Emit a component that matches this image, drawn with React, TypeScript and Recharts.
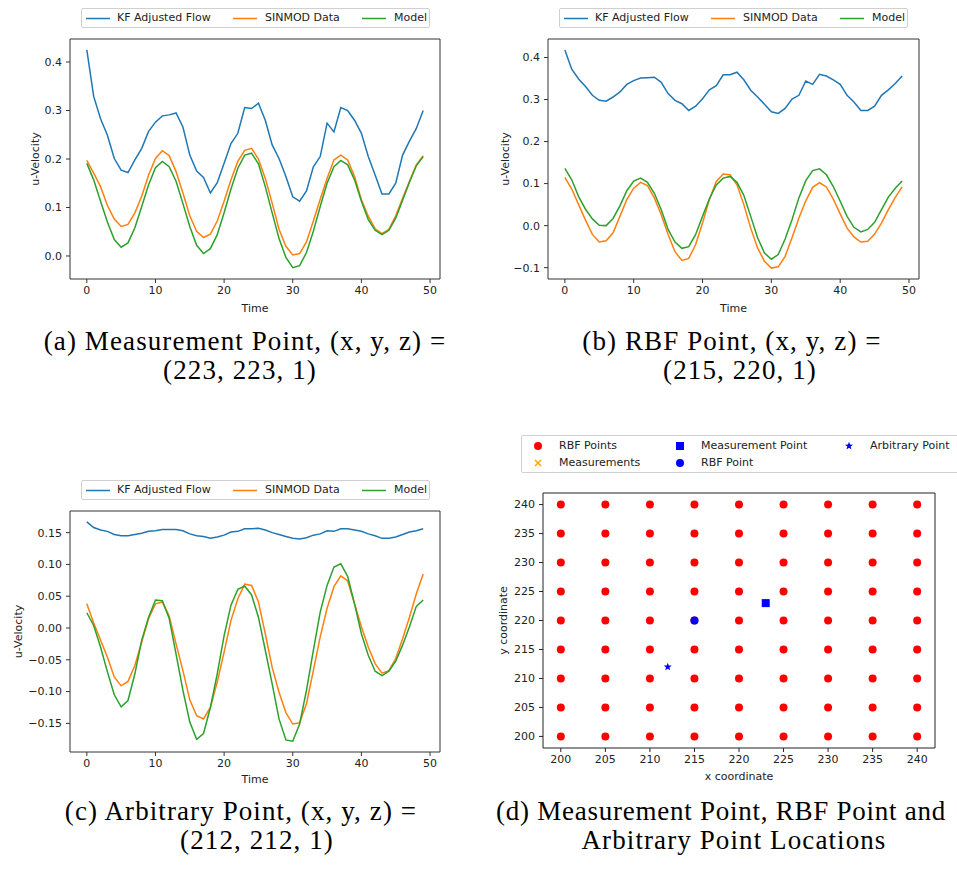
import React from "react";
import {
  LineChart,
  Line,
  XAxis,
  YAxis,
  ScatterChart,
  Scatter,
  ReferenceArea,
} from "recharts";

// time steps shared by the three line panels
const time = [
  0, 1, 2, 3, 4, 5, 6, 7, 8, 9, 10, 11, 12, 13, 14, 15, 16, 17, 18, 19, 20, 21, 22, 23, 24,
  25, 26, 27, 28, 29, 30, 31, 32, 33, 34, 35, 36, 37, 38, 39, 40, 41, 42, 43, 44, 45, 46, 47, 48, 49,
];
const timeTicks = [0, 10, 20, 30, 40, 50];

// (a) measurement point
const kfA = [
  0.425, 0.329, 0.283, 0.249, 0.201, 0.177, 0.172, 0.198, 0.222, 0.257, 0.276, 0.289, 0.291, 0.295,
  0.266, 0.208, 0.175, 0.162, 0.13, 0.151, 0.191, 0.232, 0.253, 0.306, 0.304, 0.315, 0.28, 0.229,
  0.201, 0.164, 0.122, 0.113, 0.134, 0.184, 0.205, 0.274, 0.256, 0.306, 0.3, 0.28, 0.253, 0.205,
  0.167, 0.128, 0.128, 0.15, 0.208, 0.237, 0.263, 0.3,
];
const sinA = [
  0.197, 0.171, 0.143, 0.104, 0.076, 0.061, 0.065, 0.089, 0.123, 0.167, 0.201, 0.217, 0.207, 0.174,
  0.13, 0.083, 0.051, 0.038, 0.045, 0.072, 0.113, 0.157, 0.195, 0.218, 0.222, 0.2, 0.16, 0.109,
  0.055, 0.02, 0.002, 0.005, 0.029, 0.072, 0.117, 0.16, 0.198, 0.208, 0.198, 0.164, 0.116, 0.082,
  0.056, 0.046, 0.055, 0.083, 0.119, 0.154, 0.188, 0.207,
];
const modelA = [
  0.191, 0.157, 0.113, 0.07, 0.034, 0.018, 0.027, 0.058, 0.102, 0.147, 0.182, 0.195, 0.184, 0.154,
  0.108, 0.061, 0.022, 0.005, 0.015, 0.044, 0.089, 0.138, 0.181, 0.208, 0.212, 0.19, 0.143, 0.089,
  0.036, -0.003, -0.024, -0.02, 0.007, 0.051, 0.102, 0.15, 0.184, 0.197, 0.188, 0.157, 0.113,
  0.075, 0.053, 0.044, 0.053, 0.078, 0.115, 0.152, 0.186, 0.205,
];

// (b) RBF point
const kfB = [
  0.418, 0.372, 0.349, 0.331, 0.31, 0.298, 0.296, 0.306, 0.318, 0.336, 0.345, 0.351, 0.352, 0.353,
  0.341, 0.314, 0.298, 0.29, 0.274, 0.284, 0.302, 0.323, 0.333, 0.359, 0.359, 0.365, 0.347, 0.322,
  0.306, 0.289, 0.271, 0.267, 0.279, 0.301, 0.31, 0.344, 0.336, 0.36, 0.356, 0.347, 0.336, 0.31,
  0.294, 0.274, 0.274, 0.284, 0.31, 0.323, 0.338, 0.356,
];
const sinB = [
  0.115, 0.087, 0.05, 0.013, -0.021, -0.039, -0.036, -0.017, 0.022, 0.062, 0.089, 0.103, 0.095,
  0.066, 0.026, -0.021, -0.062, -0.083, -0.078, -0.045, 0.006, 0.062, 0.105, 0.123, 0.121, 0.097,
  0.05, -0.006, -0.053, -0.085, -0.101, -0.098, -0.073, -0.029, 0.018, 0.059, 0.091, 0.102, 0.092,
  0.063, 0.028, -0.006, -0.027, -0.039, -0.037, -0.02, 0.006, 0.038, 0.067, 0.092,
];
const modelB = [
  0.136, 0.109, 0.069, 0.039, 0.016, 0.001, 0.0, 0.017, 0.047, 0.083, 0.106, 0.113, 0.103, 0.077,
  0.038, -0.009, -0.039, -0.054, -0.05, -0.021, 0.022, 0.064, 0.097, 0.113, 0.117, 0.103, 0.072,
  0.022, -0.029, -0.065, -0.08, -0.069, -0.032, 0.014, 0.066, 0.107, 0.131, 0.135, 0.121, 0.093,
  0.058, 0.022, -0.004, -0.015, -0.009, 0.008, 0.038, 0.068, 0.089, 0.106,
];

// (c) arbitrary point
const kfC = [
  0.167, 0.158, 0.154, 0.152, 0.147, 0.145, 0.145, 0.147, 0.149, 0.152, 0.153, 0.155, 0.155, 0.155,
  0.153, 0.148, 0.145, 0.144, 0.141, 0.143, 0.146, 0.151, 0.152, 0.156, 0.156, 0.157, 0.154, 0.15,
  0.147, 0.144, 0.141, 0.14, 0.142, 0.146, 0.148, 0.153, 0.152, 0.156, 0.156, 0.154, 0.152, 0.148,
  0.145, 0.141, 0.141, 0.143, 0.147, 0.151, 0.153, 0.156,
];
const sinC = [
  0.038, 0.008, -0.019, -0.046, -0.077, -0.091, -0.084, -0.059, -0.022, 0.015, 0.038, 0.041, 0.019,
  -0.025, -0.067, -0.113, -0.138, -0.143, -0.125, -0.085, -0.038, 0.012, 0.046, 0.069, 0.067,
  0.041, -0.009, -0.062, -0.101, -0.133, -0.151, -0.149, -0.119, -0.067, -0.014, 0.031, 0.065,
  0.082, 0.074, 0.038, 0.002, -0.03, -0.056, -0.071, -0.067, -0.048, -0.017, 0.017, 0.054, 0.085,
];
const modelC = [
  0.024, 0.004, -0.03, -0.069, -0.105, -0.124, -0.114, -0.072, -0.019, 0.017, 0.044, 0.043, 0.015,
  -0.041, -0.098, -0.148, -0.175, -0.166, -0.125, -0.072, -0.012, 0.036, 0.061, 0.066, 0.052,
  0.017, -0.035, -0.088, -0.143, -0.176, -0.178, -0.151, -0.098, -0.035, 0.025, 0.067, 0.096,
  0.101, 0.081, 0.038, -0.009, -0.043, -0.068, -0.075, -0.068, -0.052, -0.027, 0.002, 0.034, 0.044,
];

// (d) locations
const gridX = [200, 205, 210, 215, 220, 225, 230, 235, 240];
const gridY = [200, 205, 210, 215, 220, 225, 230, 235, 240];
const measurements = [{ x: 223, y: 223 }];
const measurementPoint = [{ x: 223, y: 223 }];
const rbfPoint = [{ x: 215, y: 220 }];
const arbitraryPoint = [{ x: 212, y: 212 }];

const BLUE = "#1f77b4";
const ORANGE = "#ff7f0e";
const GREEN = "#2ca02c";
const FONT = "DejaVu Sans";
const FS = 11;
const tickStyle = { fill: "#222", fontSize: FS, fontFamily: FONT };
const labelStyle = { fill: "#222", fontSize: FS, fontFamily: FONT, textAnchor: "middle" as const };

const minus = (s: string) => s.replace("-", "\u2212");

function LineLegend({ left, top }: { left: number; top: number }) {
  const items = [
    { name: "KF Adjusted Flow", color: BLUE, lx: 4, tx: 35 },
    { name: "SINMOD Data", color: ORANGE, lx: 151, tx: 183 },
    { name: "Model", color: GREEN, lx: 280, tx: 312 },
  ];
  return (
    <div
      style={{
        position: "absolute",
        left,
        top,
        width: 349,
        height: 20,
        border: "1px solid #d0d0d0",
        borderRadius: 2,
        background: "#fff",
        boxSizing: "border-box",
        fontFamily: FONT,
        fontSize: FS,
        color: "#222",
      }}
    >
      {items.map((it) => (
        <React.Fragment key={it.name}>
          <svg style={{ position: "absolute", left: it.lx, top: 8 }} width={24} height={3}>
            <line x1={0} x2={24} y1={1.5} y2={1.5} stroke={it.color} strokeWidth={1.5} />
          </svg>
          <span style={{ position: "absolute", left: it.tx, top: 2, lineHeight: "14px", whiteSpace: "nowrap" }}>
            {it.name}
          </span>
        </React.Fragment>
      ))}
    </div>
  );
}

type PanelProps = {
  left: number;
  top: number;
  marginTop: number;
  marginRight: number;
  yWidth: number;
  xHeight: number;
  yDomain: [number, number];
  yTicks: number[];
  digits: number;
  kf: number[];
  sin: number[];
  model: number[];
  yLabelOffset: number;
  xLabelOffset: number;
};

function LinePanel(p: PanelProps) {
  const data = time.map((t, i) => ({ t, kf: p.kf[i], sin: p.sin[i], model: p.model[i] }));
  const xDomain: [number, number] = [-2.45, 51.45];
  return (
    <div style={{ position: "absolute", left: p.left, top: p.top }}>
      <LineChart
        width={460}
        height={320}
        data={data}
        margin={{ top: p.marginTop, right: p.marginRight, left: 0, bottom: 0 }}
      >
        <XAxis
          dataKey="t"
          type="number"
          domain={xDomain}
          ticks={timeTicks}
          allowDataOverflow
          axisLine={false}
          tickLine={{ stroke: "#333" }}
          tickSize={4}
          tickMargin={3}
          height={p.xHeight}
          tick={tickStyle}
          label={{ value: "Time", position: "insideBottom", offset: p.xLabelOffset, style: labelStyle }}
        />
        <YAxis
          type="number"
          domain={p.yDomain}
          ticks={p.yTicks}
          allowDataOverflow
          axisLine={false}
          tickLine={{ stroke: "#333" }}
          tickSize={4}
          tickMargin={4}
          width={p.yWidth}
          tick={tickStyle}
          tickFormatter={(v: number) => minus(v.toFixed(p.digits))}
          label={{ value: "u-Velocity", angle: -90, position: "insideLeft", offset: p.yLabelOffset, style: labelStyle }}
        />
        <ReferenceArea
          x1={xDomain[0]}
          x2={xDomain[1]}
          y1={p.yDomain[0]}
          y2={p.yDomain[1]}
          fill="none"
          stroke="#333"
          strokeWidth={1}
          ifOverflow="visible"
        />
        <Line type="linear" dataKey="kf" stroke={BLUE} strokeWidth={1.5} dot={false} isAnimationActive={false} />
        <Line type="linear" dataKey="sin" stroke={ORANGE} strokeWidth={1.5} dot={false} isAnimationActive={false} />
        <Line type="linear" dataKey="model" stroke={GREEN} strokeWidth={1.5} dot={false} isAnimationActive={false} />
      </LineChart>
    </div>
  );
}

const redDot = (props: any) => <circle cx={props.cx} cy={props.cy} r={4} fill="#ff0000" />;
const blueDot = (props: any) => <circle cx={props.cx} cy={props.cy} r={4} fill="#0000ff" />;
const blueSquare = (props: any) => (
  <rect x={props.cx - 4} y={props.cy - 4} width={8} height={8} fill="#0000ff" />
);
const orangeCross = (props: any) => (
  <path
    d={`M${props.cx - 3},${props.cy - 3}L${props.cx + 3},${props.cy + 3}M${props.cx - 3},${props.cy + 3}L${props.cx + 3},${props.cy - 3}`}
    stroke="#ffa500"
    strokeWidth={1.5}
  />
);
const starPoints = (cx: number, cy: number, ro: number, ri: number) => {
  const pts: string[] = [];
  for (let k = 0; k < 10; k++) {
    const r = k % 2 === 0 ? ro : ri;
    const a = -Math.PI / 2 + (k * Math.PI) / 5;
    pts.push(`${cx + r * Math.cos(a)},${cy + r * Math.sin(a)}`);
  }
  return pts.join(" ");
};
const blueStar = (props: any) => <polygon points={starPoints(props.cx, props.cy, 4.2, 1.8)} fill="#0000ff" />;

function ScatterLegend() {
  const items = [
    { name: "RBF Points", mx: 16, my: 11, tx: 37, icon: <circle cx={6} cy={6} r={4} fill="#ff0000" /> },
    {
      name: "Measurements",
      mx: 16,
      my: 28,
      tx: 37,
      icon: <path d="M3,3L9,9M3,9L9,3" stroke="#ffa500" strokeWidth={1.5} />,
    },
    { name: "Measurement Point", mx: 158, my: 11, tx: 179, icon: <rect x={2} y={2} width={8} height={8} fill="#0000ff" /> },
    { name: "RBF Point", mx: 158, my: 28, tx: 179, icon: <circle cx={6} cy={6} r={4} fill="#0000ff" /> },
    { name: "Arbitrary Point", mx: 327, my: 11, tx: 348, icon: <polygon points={starPoints(6, 6, 4.2, 1.8)} fill="#0000ff" /> },
  ];
  return (
    <div
      style={{
        position: "absolute",
        left: 521,
        top: 435,
        width: 450,
        height: 38,
        border: "1px solid #d0d0d0",
        borderRadius: 2,
        background: "#fff",
        boxSizing: "border-box",
        fontFamily: FONT,
        fontSize: FS,
        color: "#222",
      }}
    >
      {items.map((it) => (
        <React.Fragment key={it.name}>
          <svg style={{ position: "absolute", left: it.mx - 6, top: it.my - 7 }} width={12} height={12}>
            {it.icon}
          </svg>
          <span style={{ position: "absolute", left: it.tx, top: it.my - 8, lineHeight: "14px", whiteSpace: "nowrap" }}>
            {it.name}
          </span>
        </React.Fragment>
      ))}
    </div>
  );
}

function LocationPanel() {
  const rbfPoints = gridY.flatMap((y) => gridX.map((x) => ({ x, y })));
  const dom: [number, number] = [198, 242];
  return (
    <div style={{ position: "absolute", left: 480, top: 480 }}>
      <ScatterChart width={477} height={310} margin={{ top: 13, right: 22, left: 0, bottom: 0 }}>
        <XAxis
          dataKey="x"
          type="number"
          domain={dom}
          ticks={gridX}
          allowDataOverflow
          axisLine={false}
          tickLine={{ stroke: "#222" }}
          tickSize={4}
          tickMargin={3}
          height={42}
          tick={tickStyle}
          label={{ value: "x coordinate", position: "insideBottom", offset: 10, style: labelStyle }}
        />
        <YAxis
          dataKey="y"
          type="number"
          domain={dom}
          ticks={gridY}
          allowDataOverflow
          axisLine={false}
          tickLine={{ stroke: "#222" }}
          tickSize={4}
          tickMargin={4}
          width={63}
          tick={tickStyle}
          label={{ value: "y coordinate", angle: -90, position: "insideLeft", offset: 23, style: labelStyle }}
        />
        <ReferenceArea x1={dom[0]} x2={dom[1]} y1={dom[0]} y2={dom[1]} fill="none" stroke="#222" strokeWidth={1} ifOverflow="visible" />
        <Scatter data={rbfPoints} shape={redDot} isAnimationActive={false} />
        <Scatter data={measurements} shape={orangeCross} isAnimationActive={false} />
        <Scatter data={measurementPoint} shape={blueSquare} isAnimationActive={false} />
        <Scatter data={rbfPoint} shape={blueDot} isAnimationActive={false} />
        <Scatter data={arbitraryPoint} shape={blueStar} isAnimationActive={false} />
      </ScatterChart>
    </div>
  );
}

function Caption({
  text,
  center,
  baseline,
  left,
  spacing = 1.1,
}: {
  text: string;
  center?: number;
  baseline: number;
  left?: number;
  spacing?: number;
}) {
  const fs = 27;
  return (
    <div
      style={{
        position: "absolute",
        left: left ?? center,
        top: baseline - fs * 0.8375,
        transform: left === undefined ? "translateX(-50%)" : undefined,
        fontFamily: "Liberation Serif",
        fontSize: fs,
        lineHeight: `${fs}px`,
        letterSpacing: spacing,
        whiteSpace: "nowrap",
        color: "#000",
      }}
    >
      {text}
    </div>
  );
}

export default function App() {
  return (
    <div
      style={{
        position: "absolute",
        left: 0,
        top: 0,
        width: 957,
        height: 870,
        overflow: "hidden",
        background: "#fff",
      }}
    >
      <LinePanel
        left={0}
        top={0}
        marginTop={39}
        marginRight={20}
        yWidth={70}
        xHeight={41}
        yDomain={[-0.0475, 0.4475]}
        yTicks={[0, 0.1, 0.2, 0.3, 0.4]}
        digits={1}
        kf={kfA}
        sin={sinA}
        model={modelA}
        yLabelOffset={35}
        xLabelOffset={8}
      />
      <LineLegend left={81} top={8} />
      <LinePanel
        left={480}
        top={0}
        marginTop={39}
        marginRight={21}
        yWidth={68}
        xHeight={41}
        yDomain={[-0.127, 0.444]}
        yTicks={[-0.1, 0, 0.1, 0.2, 0.3, 0.4]}
        digits={1}
        kf={kfB}
        sin={sinB}
        model={modelB}
        yLabelOffset={25}
        xLabelOffset={8}
      />
      <LineLegend left={559} top={8} />
      <LinePanel
        left={0}
        top={470}
        marginTop={41}
        marginRight={20}
        yWidth={70}
        xHeight={38}
        yDomain={[-0.195, 0.184]}
        yTicks={[-0.15, -0.1, -0.05, 0, 0.05, 0.1, 0.15]}
        digits={2}
        kf={kfC}
        sin={sinC}
        model={modelC}
        yLabelOffset={18}
        xLabelOffset={7}
      />
      <LineLegend left={81} top={480} />
      <LocationPanel />
      <ScatterLegend />

      <Caption text="(a) Measurement Point, (x, y, z) =" center={245} baseline={351} />
      <Caption text="(223, 223, 1)" center={240} baseline={380} />
      <Caption text="(b) RBF Point, (x, y, z) =" center={732} baseline={351} />
      <Caption text="(215, 220, 1)" center={740} baseline={380} />
      <Caption text="(c) Arbitrary Point, (x, y, z) =" center={241} baseline={821} />
      <Caption text="(212, 212, 1)" center={257} baseline={850} />
      <Caption text="(d) Measurement Point, RBF Point and" left={496} baseline={821} spacing={0.75} />
      <Caption text="Arbitrary Point Locations" center={734} baseline={850} />
    </div>
  );
}
